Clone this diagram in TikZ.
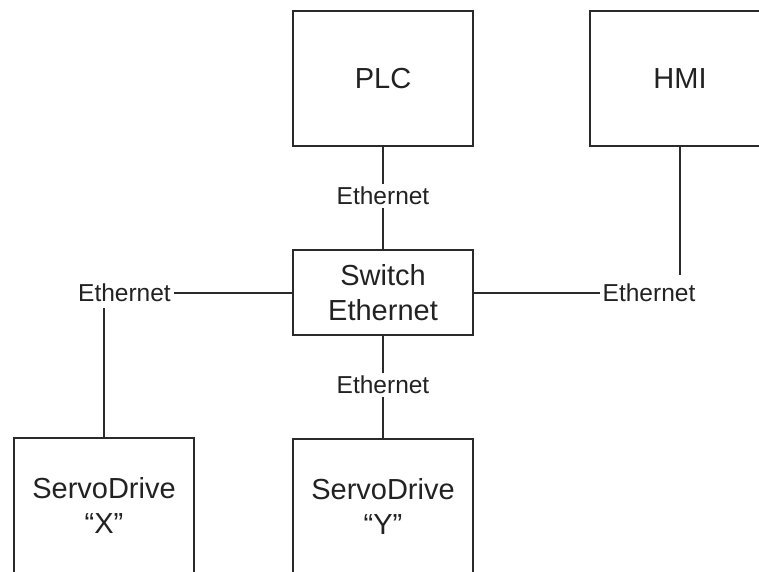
\documentclass[tikz,border=0pt]{standalone}
\usepackage{fontspec}
\setmainfont{Liberation Sans}
\definecolor{ink}{HTML}{222222}
\definecolor{edge}{HTML}{2A2A2A}
\begin{document}
\begin{tikzpicture}[x=1pt,y=-1pt,
  box/.style={draw=edge, line width=1.6pt, fill=white, minimum width=180pt, align=center, text=ink,
    font=\fontsize{29}{35}\selectfont, inner sep=0pt},
  lbl/.style={text=ink, font=\fontsize{24.5}{28}\selectfont, inner sep=3pt},
  wire/.style={draw=edge, line width=1.2pt}]
\useasboundingbox (0,0) rectangle (759,571);
\clip (0,0) rectangle (759,571);
\fill[white] (0,0) rectangle (759,571);
% boxes
\node[box, minimum height=135pt] (plc) at (383,78.5) {PLC};
\node[box, minimum height=135pt] (hmi) at (680,78.5) {HMI};
\node[box, minimum height=85pt] (sw) at (383,292.5) {Switch\\Ethernet};
\node[box, minimum height=135pt] (sx) at (104,505.5) {ServoDrive\\``X''};
\node[box, minimum height=135pt] (sy) at (383,506.5) {ServoDrive\\``Y''};
% labels
\node[lbl] (et) at (383,196) {Ethernet};
\node[lbl] (eb) at (383,385) {Ethernet};
\node[lbl] (el) at (124.5,293) {Ethernet};
\node[lbl] (er) at (649,293) {Ethernet};
% wires
\draw[wire] (plc.south) -- (et.north);
\draw[wire] (et.south) -- (sw.north);
\draw[wire] (sw.south) -- (eb.north);
\draw[wire] (eb.south) -- (sy.north);
\draw[wire] (el.east) -- (el.east -| sw.west);
\draw[wire] (er.west -| sw.east) -- (er.west);
\coordinate (cl) at ([yshift=-3pt]sx.north |- el.south);
\draw[wire] (cl) -- (sx.north);
\coordinate (cr) at ([yshift=6pt]hmi.south |- er.north);
\draw[wire] (hmi.south) -- (cr);
\end{tikzpicture}
\end{document}
